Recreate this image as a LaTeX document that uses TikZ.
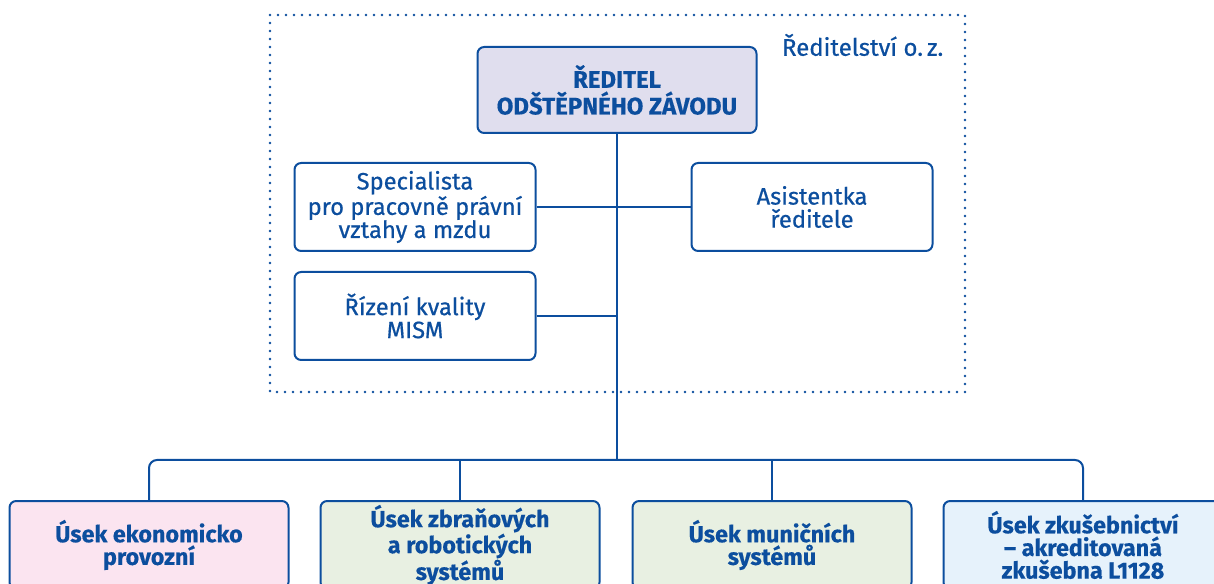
\documentclass[tikz,border=0pt]{standalone}
\usepackage{fontspec}
\setmainfont{Fira Sans}[BoldFeatures={FakeBold=0.4}]
\newfontfamily\medfont{Fira Sans}[FakeBold=0.6]
\usepackage{tikz}
\usetikzlibrary{positioning}
\usepackage{xcolor}
\definecolor{orgblue}{RGB}{12,78,158}
\definecolor{lavender}{RGB}{224,222,238}
\definecolor{pinkfill}{RGB}{251,228,240}
\definecolor{greenfill}{RGB}{232,240,226}
\definecolor{bluefill}{RGB}{230,242,251}
\tikzset{unitbox/.style={draw=orgblue, line width=1.5pt, rounded corners=5pt, text=orgblue, align=center, font=\medfont\fontsize{17.8}{17.3}\selectfont, inner sep=0pt},
    conn/.style={draw=orgblue, line width=1.5pt}}

\begin{document}
\begin{tikzpicture}[
        x=0.75pt, y=-0.75pt,
        staffbox/.style={unitbox, fill=white, minimum width=241*0.75pt, minimum height=88*0.75pt},
        deptbox/.style={unitbox, minimum width=279*0.75pt, minimum height=88*0.75pt, anchor=north, font=\bfseries\fontsize{17.5}{17}\selectfont}
    ]
        \useasboundingbox (0,0) rectangle (1214,584);
        % Frame of the directorate
        \draw[orgblue, line width=2.2pt, line cap=round, dash pattern=on 0pt off 6pt] (270,15) rectangle (965,392);
        \node[anchor=east, text=orgblue, font=\medfont\fontsize{18}{18}\selectfont] (frame) at (948,45) {Ředitelství o.\,z.};
        % Director
        \node[unitbox, fill=lavender, minimum width=279*0.75pt, minimum height=86*0.75pt, font=\bfseries\fontsize{18}{20}\selectfont] (reditel) at (617,90) {ŘEDITEL\\ODŠTĚPNÉHO ZÁVODU};
        % Staff
        \node[staffbox] (spec) at (415,207) {Specialista\\pro pracovně právní\\vztahy a mzdu};
        \node[staffbox] (asist) at (812,207) {Asistentka\\ředitele};
        \node[staffbox] (rizeni) at (415,316) {Řízení kvality\\MISM};
        % Departments
        \node[deptbox, fill=pinkfill] (ekon) at (149,500) {Úsek ekonomicko\\provozní};
        \node[deptbox, fill=greenfill] (zbran) at (460,500) {Úsek zbraňových\\a robotických\\systémů};
        \node[deptbox, fill=greenfill] (munice) at (772,500) {Úsek muničních\\systémů};
        \node[deptbox, fill=bluefill] (zkus) at (1083,500) {Úsek zkušebnictví\\– akreditovaná\\zkušebna L1128};
        % Lines
        \coordinate (bus) at (617,460);
        \draw[conn] (reditel.south) -- (bus);
        \draw[conn] (spec.east) -- (asist.west);
        \draw[conn] (rizeni.east) -- (rizeni.east -| reditel.south);
        \draw[conn, rounded corners=6pt] (ekon.north) |- (bus) -| (zkus.north);
        \draw[conn] (zbran.north) -- (zbran.north |- bus);
        \draw[conn] (munice.north) -- (munice.north |- bus);
\end{tikzpicture}
\end{document}
